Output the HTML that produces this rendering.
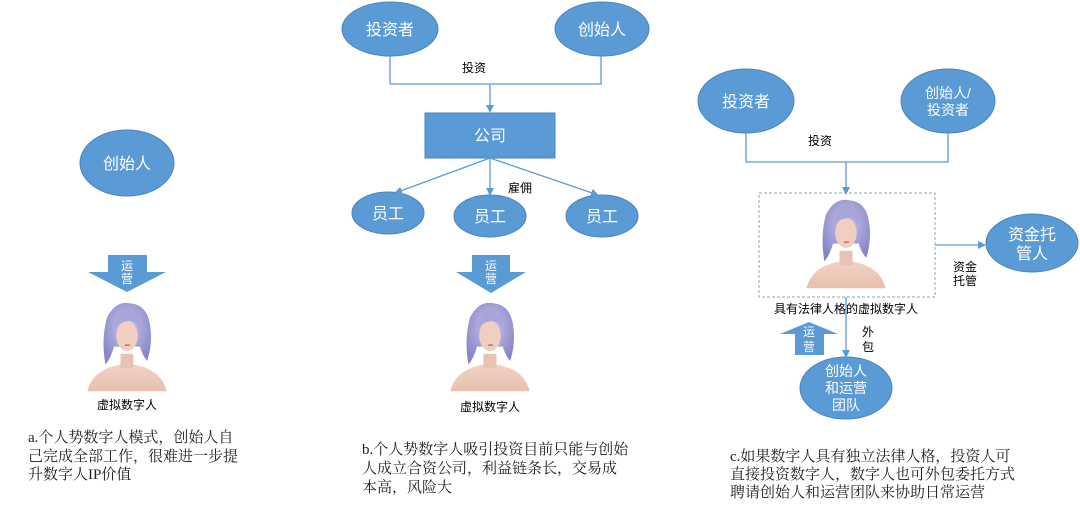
<!DOCTYPE html>
<html><head><meta charset="utf-8">
<style>
body{margin:0;background:#fff;width:1080px;height:510px;overflow:hidden}
svg{display:block}
.t{font-family:"Liberation Sans","Noto Sans CJK SC",sans-serif}
.s{font-family:"Liberation Serif","Noto Serif CJK SC",serif}
</style></head><body>
<svg width="1080" height="510" viewBox="0 0 1080 510">
<defs>
<radialGradient id="hair" cx="50%" cy="40%" r="60%"><stop offset="0" stop-color="#c9c6ee"/><stop offset="1" stop-color="#8a86c6"/></radialGradient>
<linearGradient id="skin" x1="0" y1="0" x2="0" y2="1"><stop offset="0" stop-color="#f1d2c4"/><stop offset="1" stop-color="#e8c0ae"/></linearGradient>
<marker id="ar" markerWidth="8" markerHeight="8" refX="7" refY="4" orient="auto" markerUnits="userSpaceOnUse"><path d="M0,0 L8,4 L0,8 z" fill="#5b9bd5"/></marker>
<g id="av0">
<path d="M-55,92 Q-48,62 -10,55 L10,55 Q48,62 55,92 z" fill="url(#skin)"/>
<rect x="-9" y="40" width="18" height="20" fill="#e9c3b1"/>
<path d="M-30,55 Q-36,20 -28,-10 Q-15,-35 5,-30 Q28,-28 32,0 Q36,25 28,50 Q20,40 18,30 L-18,30 Q-22,45 -30,55z" fill="url(#hair)"/>
<ellipse cx="0" cy="15" rx="15" ry="21" fill="#f0cfc0"/>
<path d="M-18,5 Q-10,-25 5,-22 Q20,-18 18,5 Q10,-8 0,-5 Q-10,-4 -18,5z" fill="#a9a5da"/>
<rect x="-3" y="27" width="7" height="2" fill="#c46b6b"/>
</g>
<g id="av"><use href="#av0" transform="scale(0.72)"/></g>
</defs>
<g fill="#5b9bd5" stroke="#4a85bd" stroke-width="1">
<ellipse cx="127" cy="163" rx="47" ry="33"/>
<ellipse cx="390" cy="29" rx="48" ry="27"/>
<ellipse cx="602" cy="29" rx="47" ry="27"/>
<rect x="425" y="113" width="130" height="45"/>
<ellipse cx="388" cy="213" rx="36" ry="21"/>
<ellipse cx="490" cy="216" rx="36" ry="21"/>
<ellipse cx="602" cy="216" rx="36" ry="21"/>
<ellipse cx="746" cy="101" rx="48" ry="32"/>
<ellipse cx="948" cy="101" rx="47" ry="32"/>
<ellipse cx="1032" cy="243" rx="46" ry="29"/>
<ellipse cx="846" cy="388" rx="46" ry="31"/>
</g>
<g fill="#5b9bd5">
<path d="M108,255 H147 V272 H166 L127,292 L88,272 H108z"/>
<path d="M472,255 H510 V272 H526 L491,293 L456,272 H472z"/>
<path d="M795,355 V334 H780 L809,322 L838,334 H824 V355z"/>
</g>
<g stroke="#5b9bd5" stroke-width="1.3" fill="none">
<path d="M390,56 V84 H601 V56"/>
<path d="M490,84 V112" marker-end="url(#ar)"/>
<path d="M490,158 L395,193" marker-end="url(#ar)"/>
<path d="M490,158 V195" marker-end="url(#ar)"/>
<path d="M490,158 L598,195" marker-end="url(#ar)"/>
<path d="M746,133 V162 H948 V133"/>
<path d="M846,162 V194" marker-end="url(#ar)"/>
<path d="M935,245 H985" marker-end="url(#ar)"/>
<path d="M846,297 V357" marker-end="url(#ar)"/>
</g>
<rect x="759" y="193" width="176" height="104" fill="none" stroke="#8aa3bd" stroke-dasharray="3,2"/>
<use href="#av" x="127" y="325"/>
<use href="#av" x="490" y="325"/>
<use href="#av" x="846" y="222"/>
<g class="t" fill="#fff" text-anchor="middle" font-size="16">
<text x="127" y="169">创始人</text>
<text x="390" y="35">投资者</text>
<text x="602" y="35">创始人</text>
<text x="490" y="141">公司</text>
<text x="388" y="219">员工</text>
<text x="490" y="222">员工</text>
<text x="602" y="222">员工</text>
<text x="746" y="107">投资者</text>
<text x="948" y="98" font-size="14">创始人/</text>
<text x="948" y="115" font-size="14">投资者</text>
<text x="1032" y="240">资金托</text>
<text x="1032" y="259">管人</text>
<text x="846" y="376" font-size="14">创始人</text>
<text x="846" y="393" font-size="14">和运营</text>
<text x="846" y="410" font-size="14">团队</text>
<text x="127" y="270" font-size="12">运</text>
<text x="127" y="283" font-size="12">营</text>
<text x="491" y="270" font-size="12">运</text>
<text x="491" y="283" font-size="12">营</text>
<text x="809" y="336" font-size="12">运</text>
<text x="809" y="351" font-size="12">营</text>
</g>
<g class="t" fill="#000" font-size="12">
<text x="462" y="72">投资</text>
<text x="508" y="192">雇佣</text>
<text x="808" y="145">投资</text>
<text x="953" y="271">资金</text>
<text x="953" y="285">托管</text>
<text x="862" y="336">外</text>
<text x="862" y="351">包</text>
<text x="127" y="409" text-anchor="middle">虚拟数字人</text>
<text x="490" y="411" text-anchor="middle">虚拟数字人</text>
<text x="846" y="313" text-anchor="middle">具有法律人格的虚拟数字人</text>
</g>
<g class="s" fill="#222" font-size="15">
<text x="28" y="442">a.个人势数字人模式，创始人自</text>
<text x="28" y="461">己完成全部工作，很难进一步提</text>
<text x="28" y="479">升数字人IP价值</text>
<text x="362" y="454">b.个人势数字人吸引投资目前只能与创始</text>
<text x="362" y="473">人成立合资公司，利益链条长，交易成</text>
<text x="362" y="492">本高，风险大</text>
<text x="730" y="461">c.如果数字人具有独立法律人格，投资人可</text>
<text x="730" y="479">直接投资数字人，数字人也可外包委托方式</text>
<text x="730" y="497">聘请创始人和运营团队来协助日常运营</text>
</g>
</svg>
</body></html>
